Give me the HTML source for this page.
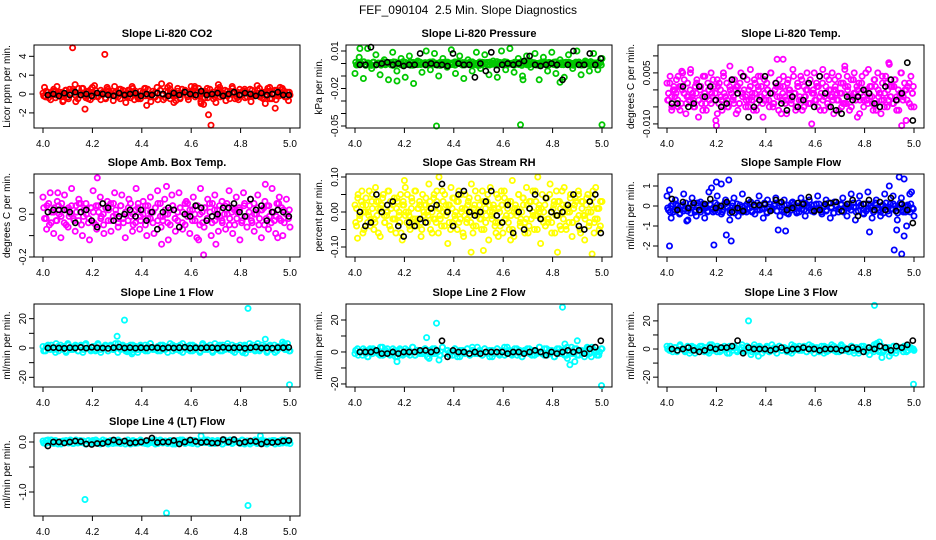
<!DOCTYPE html>
<html>
<head>
<meta charset="utf-8">
<style>
html,body{margin:0;padding:0;background:#fff;}
svg{display:block;font-family:"Liberation Sans",Arial,sans-serif;}
</style>
</head>
<body>
<svg id="chart" width="936" height="540" viewBox="0 0 936 540" xmlns="http://www.w3.org/2000/svg">
<rect x="0" y="0" width="936" height="540" fill="#fff"/>
<text x="468" y="14" text-anchor="middle" font-size="12" xml:space="preserve">FEF_090104  2.5 Min. Slope Diagnostics</text>
</svg>
<script>
// ---------- x axis ----------
const xTicks=[4.0,4.2,4.4,4.6,4.8,5.0];
const xTickLabels=["4.0","4.2","4.4","4.6","4.8","5.0"];

// ---------- CO2 ----------
const co2Band=[.1,-.3,.2,-.1,.3,-.4,0,.2,-.2,.4,-.3,.1,.5,-.1,-.5,.2,.6,-.2,.3,-.6,.1,.4,-.3,0,.2,-.4,.5,-.1,.3,-.2,.1,-.5,.4,0,-.3,.2,.6,-.1,-.4,.3,.1,-.2,.5,-.3,0,.2,-.6,.4,-.1,.3,.7,-.5,.2,-.2,.6,-.4,.1,.3,-.1,0,.4,-.3,.2,-.2,.1,.3,-.4,0,.2,-.1,.5,-.3,.1,.4,-.2,0,.6,-.5,.2,-.1,.3,-.4,.1,.5,-.2,0,.4,-.3,.2,-.1,.3,-.5,.1,.4,-.2,0,.5,-.3,.2,-.1];
const co2Band2=[-.2,.3,-.4,.1,.5,-.1,.2,-.3,0,.4,-.5,.1,.3,-.2,.6,-.1,0,-.4,.2,.5,-.3,.1,-.2,.4,0,-.5,.3,.1,-.1,.2,-.3,.5,0,-.2,.4,-.4,.1,.3,-.1,-.5,.2,.6,-.2,0,.3,-.3,.1,.4,-.1,-.4,.2,.5,-.2,0,.3,-.5,.1,.4,-.3,.2,-.1,.6,-.2,0,.3,-.4,.1,.5,-.1,-.3,.2,.4,-.2,0,.3,-.5,.1,.2,-.4,.5,-.1,.3,-.3,0,.4,-.2,.1,.6,-.4,.2,-.1,.3,-.5,0,.4,-.2,.1,.3,-.3,.2];
const co2Scat=[.7,-.6,.8,-.7,.5,-.8,.6,-.5,.9,-.6,.7,-.7,.5,-.9,.8,-.5,.6,-.8,.7,-.6,.9,-.7,.5,-.6,.8,-.8,.6,-.5,.7,-.7,.8,-.6,.5,-.8,.9,-.5,.7,-.6,.6,-.7];
const co2OutX=[4.12,4.25,4.13,4.17,4.2,4.29,4.42,4.48,4.53,4.6,4.64,4.65,4.67,4.68,4.7,4.71,4.63,4.9,4.91,4.94,4.96,4.08,4.35,4.37,4.05];
const co2OutY=[4.9,4.2,1.0,-1.6,.7,.8,-1.2,1.1,-.9,.8,-1.0,-1.1,-2.2,-3.3,-.9,1.0,.6,-1.0,.6,-1.5,.7,-.8,.4,-.6,.3];
const co2Black=[-.1,0,-.2,.1,-.1,.2,-.1,0,-.2,.1,0,-.1,-.2,.1,-.1,0,.1,-.2,0,-.1,.1,0,-.2,.1,-.1,.2,0,-.1,.3,-.1,0,.1,-.2,0,.2,-.1,.1,0,-.2,.1,-.1,0,.2,-.1,-.1];
const co2Ticks=[-2,0,2,4];
const co2TickLabels=["-2","0","2","4"];

// ---------- Pressure ----------
const presBand=[.001,-.001,0,.0012,-.0015,.0005,-.0008,.001,-.0012,.0003,-.0005,.0014,-.001,0,.0008,-.0015,.0011,-.0003,.0006,-.0012,.0009,-.0007,.0013,-.0014,.0002,-.0009,.001,-.0004,.0007,-.0011,.0012,-.0002,.0004,-.0013,.0009,-.0006,.0011,-.0015,.0003,-.0008,.0013,-.0001,.0006,-.0012,.0008,-.0005,.001,-.001,.0002,-.0014,.0012,-.0003,.0007,-.0009,.0011,-.0006,.0004,-.0013,.0009,-.0002,.0014,-.0011,.0001,-.0007,.001,-.0004,.0008,-.0015,.0005,-.001,.0012,-.0003,.0006,-.0012,.0003,-.0008,.0013,-.0005,.0009,-.0001,.0011,-.0014,.0004,-.0009,.0007,-.0006,.001,-.0011,.0002,-.0004,.0012,-.0013,.0006,-.0002,.0009,-.001,.0005,-.0007,.0011,-.0012];
const presBand2=[-.0012,.0008,-.0003,.0014,-.0009,.0002,-.0015,.0011,-.0006,.0004,-.0013,.001,-.0001,.0007,-.0011,.0013,-.0004,.0005,-.001,.0015,-.0007,.0001,-.0014,.0009,-.0002,.0012,-.0008,.0003,-.0012,.0006,-.0005,.0014,-.001,.0002,-.0015,.0008,-.0003,.0011,-.0009,.0005,-.0013,.0012,-.0001,.0007,-.0011,.0004,-.0006,.0013,-.0008,.0001,-.0014,.001,-.0004,.0009,-.0012,.0003,-.0007,.0015,-.0002,.0006,-.001,.0011,-.0005,.0002,-.0013,.0008,-.0009,.0014,-.0003,.0005,-.0011,.0012,-.0006,.0001,-.0015,.0009,-.0002,.0007,-.0012,.0004,-.0008,.0013,-.0001,.0006,-.001,.001,-.0004,.0003,-.0014,.0011,-.0007,.0002,-.0011,.0008,-.0005,.0015,-.0009,.0004,-.0013,.0007];
const presScat=[-.008,.005,-.012,.012,-.004,.007,-.009,.003,-.013,.009,-.006,.004,-.011,.006,-.016,.002,-.007,.01,-.005,.008,-.01,.004,-.003,.011,-.008,.006,-.012,.003,-.006,.009,-.004,.007,-.009,.002,-.011,.01,-.005,.012,-.007,.004,-.01,.006,-.003,.008,-.013,.005,-.006,.009,-.008,.003,-.011,.007,-.004,.01,-.009,.002,-.006,.008,-.005,.004];
const presOutX=[4.33,4.67,5.0,4.17,4.83,4.02,4.68];
const presOutY=[-.05,-.049,-.049,-.014,-.015,.012,-.013];
const presBlack=[-.001,-.001,.013,-.001,0,.001,-.001,0,-.002,-.001,-.001,.008,-.001,0,-.001,-.001,-.002,.008,0,-.001,-.001,-.011,0,-.006,.009,-.005,-.001,0,-.001,0,.002,.006,-.001,-.002,-.001,0,-.001,-.013,-.001,.01,-.001,-.001,.008,-.001,.004];
const presTicks=[.01,0,-.01,-.02,-.03,-.04,-.05];
const presTickLabels=["0.01","","","-0.02","","","-0.05"];

// ---------- Li-820 Temp ----------
const tempScat=[.002,-.003,.004,-.006,0,-.002,.003,-.005,.001,-.004,.005,-.001,-.007,.002,-.003,.006,-.002,-.005,.001,.003,-.008,0,-.004,.004,-.001,-.006,.002,-.003,.005,-.002,.001,-.009,.003,-.004,0,-.006,.004,-.002,.002,-.005,.007,-.001,-.003,.003,-.007,.001,-.004,.005,-.002,0,-.005,.003,-.003,.006,-.001,-.006,.002,-.004,.004,-.002,.001,-.008,.003,-.003,0,-.005,.005,-.001,-.004,.002,.009,-.006,.001,-.003,.004,-.002,-.007,.003,0,-.004,.006,-.001,-.005,.002,-.003,.004,-.006,.001,-.002,.005,-.004,.003,-.010,0,-.003,.002,-.005,.004,-.001,.006,-.006,.001,-.004,.003,-.002,.005,-.007,0,-.003,.004,-.001,-.005,.002,.007,-.004,.001,-.006,.003,-.002,.005,-.003,-.008,.002,-.001,.004,-.005,0,-.003,.006,-.002,.001,-.006,.003,-.004,.005,-.001,-.007,.002,-.003,.004,-.005,.008,-.002,.001,-.004,.003,-.006,0,-.002,.005,-.003,.002,-.009,.001,-.004,.004,-.001,-.005];
const tempScat2=[-.003,.002,-.005,.001,-.001,.004,-.006,0,.003,-.004,-.002,.005,-.001,-.005,.002,-.003,.001,-.006,.004,-.002,0,-.004,.003,-.001,-.007,.002,-.003,.005,-.002,-.005,.001,.003,-.004,0,-.006,.002,-.001,.004,-.003,-.005,.001,-.002,.003,-.006,0,.004,-.004,-.001,.002,-.003,.005,-.005,0,-.002,.003,-.007,.001,-.004,.002,-.001,-.003,.004,-.006,.001,-.002,.003,-.005,0,.002,-.004,-.001,.005,-.003,.001,-.006,.002,-.002,.004,-.005,0,-.003,.003,-.001,-.006,.002,-.004,.001,.004,-.002,-.005,.003,-.001,0,-.007,.002,-.003,.005,-.004,.001,-.002,.003,-.006,0,-.001,.004,-.005,.002,-.003,.001,-.004,.003,-.002,-.006,.005,-.001,0,-.003,.002,-.005,.001];
const tempBand=[-.001,-.002,0,-.003,.001,-.001,-.002,0,-.003,-.001,.001,-.002,-.004,0,-.001,-.003,.001,-.002,-.001,-.003,0,-.002,.001,-.004,-.001,-.002,0,-.003,-.001,.001,-.002,-.003,0,-.001,-.004,.001,-.002,-.001,-.003,0,-.002,-.001,.001,-.003,-.002,0,-.004,-.001,.001,-.002,-.003,-.001,0,-.002,.001,-.003,-.001,-.004,0,-.002,-.001,.001,-.003,-.002,0,-.001,-.004,.001,-.002,-.003,-.001,0,-.002,.001,-.003,-.001,-.002,0,-.004,-.001];
const tempOutX=[4.2,4.47,4.9,4.95,4.06,4.72];
const tempOutY=[-.0105,.009,.0075,-.0105,.0055,.006];
const tempBlack=[-.004,-.004,.001,-.005,-.004,.001,-.002,.001,-.003,-.005,-.004,.003,-.001,.004,-.008,-.005,-.003,.004,-.001,.002,-.004,-.006,-.002,-.005,-.003,.002,-.005,.004,-.001,-.005,-.006,-.007,-.002,-.003,-.002,0,-.001,-.004,-.005,.001,.003,-.003,-.001,.008,-.009];
const tempTicks=[.01,.005,0,-.005,-.01];
const tempTickLabels=["","0.005","","","-0.010"];

// ---------- Amb Box Temp ----------
const ambBand=[.03,-.02,.05,-.04,.01,-.03,.04,-.01,.02,-.05,.03,0,-.02,.04,-.03,.05,-.01,.02,-.04,.03,.01,-.05,.04,-.02,0,.03,-.03,.05,-.01,.02,-.04,.04,-.02,.01,-.03,.05,0,-.04,.03,-.01,.02,-.05,.04,-.02,.01,.03,-.03,.05,-.01,0,-.04,.02,.04,-.02,-.03,.03,.01,-.05,.05,-.01,.02,-.03,.04,0,-.04,.03,-.02,.01,.05,-.03,.02,-.01,-.04,.04,0,-.02,.03,-.05,.01,.02,-.03,.05,-.01,.04,-.04,0,.03,-.02,.02,-.05,.04,-.01,.01,-.03,.05,-.02,.03,-.04,0,.02];
const ambBand2=[-.02,.04,-.05,.01,.03,-.03,0,.05,-.04,.02,-.01,.04,-.03,.01,.05,-.05,.02,0,-.02,.03,-.04,.04,.01,-.01,-.05,.03,.02,-.03,.05,0,-.02,.04,-.04,.01,.03,-.01,-.05,.02,.05,-.03,0,.04,-.02,.01,-.04,.03,.05,-.01,-.03,.02,0,-.05,.04,-.02,.01,.03,-.04,.05,-.01,.02,-.03,0,.04,-.05,.01,.03,-.02,.05,-.04,.02,-.01,.04,-.03,0,.05,-.05,.01,.02,-.02,.03,-.04,.04,-.01,.01,-.03,.05,0,-.05,.02,.03,-.02,.04,-.04,.01,-.01,.05,-.03,.02,0,-.02];
const ambScat=[.08,-.07,.1,-.09,.06,-.11,.09,-.06,.12,-.08,.07,-.1,.05,-.12,.11,-.07,.08,-.09,.06,-.08,.1,-.06,.09,-.11,.07,-.08,.12,-.07,.06,-.1,.08,-.09,.11,-.06,.07,-.12,.09,-.08,.1,-.07,.06,-.09,.08,-.11,.12,-.06,.07,-.1,.09,-.08,.06,-.07,.11,-.09,.08,-.12,.1,-.06,.07,-.08,.09,-.11,.06,-.07,.12,-.09,.08,-.1,.07,-.06];
const ambOutX=[4.22,4.48,4.65,4.63,4.06,4.5,4.95,4.9,4.7];
const ambOutY=[.17,-.14,-.19,-.12,.1,.13,-.11,.14,-.14];
const ambBlack=[.01,.02,.02,.02,.01,-.04,.01,.02,-.03,-.06,.05,.03,-.03,-.01,0,.02,-.01,.02,-.03,.01,-.07,.01,.03,.02,-.06,0,-.01,.04,.03,-.03,-.01,0,.03,.03,.05,.01,-.01,.07,.02,.04,-.03,.01,.02,.01,-.01];
const ambTicks=[.1,0,-.1,-.2];
const ambTickLabels=["","0.0","","-0.2"];

// ---------- Gas Stream RH ----------
const rhScat=[.02,-.04,.05,-.01,.03,-.06,0,.04,-.03,.06,-.02,.01,-.05,.07,-.01,.03,-.07,.02,.05,-.03,0,.06,-.04,.01,-.02,.04,-.06,.03,-.01,.05,-.08,.02,.07,-.03,0,-.05,.04,-.02,.06,-.04,.01,.03,-.07,.05,-.01,.02,-.03,.08,-.05,0,.04,-.02,.06,-.06,.01,-.04,.03,.05,-.01,-.09,.02,.07,-.03,.04,0,-.05,.06,-.02,.01,-.07,.05,-.03,.03,-.01,.08,-.06,.02,-.04,.04,0,-.02,.06,-.05,.01,.03,-.08,.07,-.01,.02,-.04,.05,-.03,0,.06,-.06,.04,-.02,.01,-.05,.03,.09,-.07,.02,-.01,.05,-.04,0,.04,-.03,.07,-.06,.01,-.02,.06,-.05,.03,-.01,.02,-.09,.05,0,-.04,.04,-.02,.08,-.03,.01,-.06,.06,-.01,.03,-.05,.02,.07,-.04,0,-.03,.05,-.07,.01,.04,-.02,.06,-.05,.03,-.01,-.08,.02,.05,-.03,0,.04,-.06,.07,-.02,.01,-.04,.03];
const rhScat2=[-.03,.04,-.01,.06,-.05,.02,0,-.04,.05,-.02,.03,-.06,.01,.04,-.03,-.01,.06,-.05,.02,-.02,.04,0,-.06,.03,-.01,.05,-.04,.01,-.03,.06,-.02,.02,-.05,0,.04,-.01,.03,-.06,.05,-.03,.01,-.02,.06,-.04,0,.02,-.05,.04,-.01,.03,-.03,.05,-.06,.01,-.02,.04,0,-.04,.06,-.01,.02,-.05,.03,-.03,.05,0,-.02,.01,-.06,.04,-.04,.02,.06,-.01,-.03,.03,-.05,.01,0,.05,-.02,.04,-.06,.02,-.04,.03,-.01,.06,-.05,0,.01,-.03,.04,-.02,.05,-.06,.02,-.01,.03,-.04,.06,0,-.05,.01,.04,-.03,.02,-.02,.05,-.06,.03,-.01,.04,-.04,0,.06,-.02,.01,-.05,.03];
const rhBand=[.01,-.02,.02,0,-.01,.03,-.03,.01,.02,-.01,0,.03,-.02,.01,-.03,.02,0,-.01,.03,-.02,.01,-.03,.02,0,.01,-.02,.03,-.01,0,.02,-.03,.01,-.02,.03,0,-.01,.02,-.03,.01,0,-.02,.03,-.01,.02,0,-.03,.01,.02,-.02,.03,-.01,0,.01,-.03,.02,-.02,.03,0,-.01,.01,-.02,.02,-.03,0,.03,-.01,.01,-.02,.02,0,-.03,.03,-.01,.01,-.02,0,.02,-.03,.01,.03];
const rhOutX=[4.34,4.74,4.52,4.82,4.96,4.01,4.2,4.58,4.47,4.63];
const rhOutY=[.1,.1,-.11,-.115,-.12,-.075,.09,-.07,-.115,-.08];
const rhBlack=[0,-.04,-.03,.05,0,.02,.03,-.04,-.07,-.03,-.04,-.02,-.03,.01,.02,.08,0,-.04,.05,.06,0,-.01,0,.03,.06,-.01,-.03,.02,-.06,0,-.05,.01,.05,-.02,.04,0,-.01,0,.02,.05,-.04,-.05,.03,.05,-.06];
const rhTicks=[.1,.05,0,-.05,-.1];
const rhTickLabels=["0.10","","0.00","","-0.10"];

// ---------- Sample Flow ----------
const flowBand=[-.1,-.3,.1,-.2,0,-.35,.05,-.15,-.25,.1,-.05,-.3,.15,-.2,-.1,0,-.3,.1,-.15,-.25,.05,-.1,-.3,.15,-.05,-.2,0,-.35,.1,-.15,-.05,-.25,.1,-.1,-.3,.05,-.2,0,-.15,.15,-.3,-.05,-.1,.1,-.25,0,-.2,.05,-.35,-.1,.15,-.15,-.05,-.3,.1,-.2,0,-.1,-.25,.05,-.15,.1,-.3,-.05,-.2,.15,-.1,-.35,0,-.15,.05,-.25,-.1,.1,-.2,-.05,-.3,.15,0,-.15,-.25,.1,-.1,-.3,.05,-.2,0,-.35,.15,-.05,-.15,.1,-.25,-.1,.05,-.3,0,-.2,.1,-.15];
const flowBand2=[-.2,0,-.3,.1,-.15,-.05,-.25,.15,-.1,-.35,.05,-.2,0,-.3,.1,-.1,-.25,.05,-.15,.15,-.3,0,-.2,.1,-.05,-.35,.15,-.1,-.2,.05,-.3,0,-.15,.1,-.25,-.05,.15,-.2,-.1,.05,-.35,.1,-.15,0,-.25,.15,-.05,-.3,.05,-.1,-.2,.1,-.35,0,-.15,.15,-.25,-.05,.05,-.3,.1,-.1,-.2,0,-.25,.15,-.05,-.35,.05,-.15,.1,-.3,0,-.1,-.2,.15,-.05,-.25,.05,-.35,.1,-.15,0,-.2,.15,-.1,-.3,.05,-.05,-.25,.1,-.15,0,-.35,.15,-.2,-.05,.05,-.3,-.1];
const flowScat=[.5,-.6,.3,-.4,.6,-.7,.4,-.5,.2,-.6,.7,-.3,.5,-.4,.3,-.7,.4,-.5,.6,-.3,.2,-.4,.5,-.6,.3,-.2,.4,-.5,.3,-.4,.2,-.3,.4,-.5,.3,-.2,.5,-.4,.3,-.6,.2,-.3,.4,-.5,.6,-.7,.5,-.4,.7,-.6,.3,-.5,.6,-.4,.5,-.7,.4,-.3,.6,-.5];
const flowOutX=[4.01,4.01,4.2,4.19,4.22,4.25,4.26,4.24,4.45,4.48,4.82,4.9,4.92,4.93,4.94,4.96,4.95,4.99,4.08,4.18,4.97,4.96];
const flowOutY=[.8,-2.0,1.2,-1.95,1.1,1.3,-1.75,-1.45,-1.2,-1.25,-1.3,1.0,-2.2,-1.2,1.45,1.35,-2.4,.7,-.75,.9,-1.0,-1.5];
const flowBlack=[.35,-.2,.2,-.1,.15,-.2,.1,.35,-.1,0,.2,-.3,-.1,-.25,.3,.05,.05,.1,-.25,.3,.2,-.2,-.1,.15,.1,.45,-.25,-.2,.1,.15,.2,-.25,.1,.3,-.5,.1,.3,-.2,.2,-.2,.4,-.25,.1,-.2,-.85];
const flowTicks=[1,0,-1,-2];
const flowTickLabels=["1","0","-1","-2"];

// ---------- Line 1 ----------
const l1Band=[1,-2,2,-1,0,-3,1,2,-1,-2,3,0,-1,2,-2,1,-3,2,0,-1,1,-2,3,-1,0,2,-2,1,-1,3,-3,0,2,-1,1,-2,2,0,-3,1,-1,2,-2,3,0,-1,1,-2,2,-1,0,3,-2,1,-1,2,-3,0,1,-2,2,-1,0,-2,3,1,-1,2,-3,0,1,-2,2,-1,3,0,-2,1,-1,2,-3,1,0,-1,2,-2,3,-1,0,1,-2,2,-1,-3,1,0,2,-1,3,-2];
const l1Band2=[-2,1,0,2,-1,3,-2,0,1,-3,2,-1,0,1,-2,2,-1,3,0,-2,1,-1,2,-3,0,1,-2,2,-1,0,3,-1,1,-2,0,2,-3,1,-1,2,0,-2,1,3,-1,0,-2,2,-1,1,-3,0,2,-1,1,-2,3,0,-1,2,-2,1,0,-3,2,-1,1,0,-2,3,-1,2,-2,0,1,-1,2,-3,1,0,-2,2,-1,3,0,-1,1,-2,2,0,-3,1,-1,2,-2,0,1,3,-1,-2];
const l1OutX=[4.3,4.33,4.34,4.36,4.83,4.87,4.9,4.97,4.998,4.82];
const l1OutY=[8,19,-2.5,-4,27,3,6,4,-25,-3.5];
const l1Black=[0,.3,0,-.2,.2,0,.4,-.1,.5,.1,0,-.3,.2,.6,0,.3,-.1,.2,0,.4,.1,-.2,.3,0,.2,.5,-.1,.1,0,.3,.2,-.1,.4,0,.1,.3,-.2,.2,.6,0,.1,-.1,.3,.2,.4];
const lineTicks=[20,10,0,-10,-20];
const lineTickLabels=["20","","0","","-20"];

// ---------- Line 2 ----------
const l2Band=[-1,2,0,-2,1,-3,2,-1,1,0,-2,3,-1,2,-2,0,1,-3,2,-1,0,1,-2,3,-2,1,0,-1,2,-3,1,-1,2,0,-2,3,-1,1,-2,0,2,-1,-3,1,0,2,-2,1,-1,3,0,-2,2,-1,1,-3,0,2,-1,1,-2,3,0,-1,2,-2,1,-3,0,2,-1,1,-2,0,3,-1,2,-2,1,0,-3,2,-1,1,-2,3,0,-1,2,-2,1,0,-3,2,-1,3,1,-2,0,2];
const l2Band2=[1,-2,0,2,-1,-3,1,2,0,-1,3,-2,1,0,-1,2,-3,0,1,-2,2,-1,0,3,-2,1,-1,0,2,-3,1,2,-1,0,-2,3,-1,1,0,-2,2,-3,1,0,-1,2,-2,3,0,-1,1,-2,2,0,-3,1,-1,2,-2,0,3,-1,1,-2,0,2,-1,-3,1,0,2,-2,1,-1,3,0,-2,2,-1,1,-3,0,2,-1,1,-2,0,3,-1,2,-2,1,0,-1,2,-3,1,0,-2,2];
const l2OutX=[4.17,4.29,4.3,4.33,4.34,4.84,4.85,4.87,4.9,4.89,4.998,4.94,4.86];
const l2OutY=[-6,9,-4,18,-5,28,5,-8,7,-6,-21,3,-4];
const l2Black=[0,0,0,1,-1,-1,0,-1,0,0,0,1,1,0,1,7,-3,1,0,0,-1,0,-1,0,0,0,0,-1,0,0,-1,0,1,0,-2,0,-1,0,1,0,1,-1,2,3,7];

// ---------- Line 3 ----------
const l3Band=[2,-1,0,1,-2,2,0,-1,1,-3,2,1,-1,0,2,-2,1,-1,3,0,-2,1,-1,2,0,-3,1,2,-1,0,1,-2,2,-1,0,3,-2,1,0,-1,2,-2,0,1,-3,2,-1,1,0,-2,3,-1,0,2,-1,1,-2,0,2,-3,1,0,-1,2,-2,1,3,-1,0,-2,2,1,-1,0,2,-3,1,-1,2,0,-2,1,-1,3,0,-2,2,-1,1,0,-3,2,-1,1,0,2,-2,1,0,-1];
const l3Band2=[0,2,-2,1,-1,3,0,-2,2,-1,1,-3,0,2,-1,1,-2,3,-1,0,2,-2,1,0,-3,2,-1,1,-2,0,3,-1,2,0,-2,1,-1,2,-3,0,1,-2,3,-1,0,2,-1,1,-2,0,-3,2,1,-1,0,2,-2,3,-1,1,0,-2,2,-3,1,-1,0,2,-2,1,3,-1,0,-2,2,-1,1,-3,0,2,-1,1,0,-2,3,-1,2,-2,0,1,-1,2,-3,1,0,-2,2,-1,1,0];
const l3OutX=[4.33,4.17,4.34,4.37,4.84,4.86,4.87,4.9,4.998,4.82,4.85];
const l3OutY=[20,-3,-4,-5,31,5,-6,-5,-25,-4,4];
const l3Black=[0,-1,0,1,-1,-2,-1,1,0,1,1,2,6,-3,1,0,0,0,-1,0,1,-1,0,0,1,0,0,-1,0,0,0,-1,0,1,0,-2,1,0,2,1,-1,2,1,3,6];

// ---------- Line 4 ----------
const l4Band=[.02,-.03,.04,0,-.02,.03,-.04,.01,.02,-.01,0,.04,-.03,.01,-.02,.03,0,-.04,.02,-.01,.03,-.02,.01,-.04,.04,0,-.01,.02,-.03,.03,-.02,.01,0,-.04,.04,-.01,.02,-.03,.01,.03,-.02,0,-.04,.02,-.01,.04,-.03,.01,0,.02,-.02,.03,-.04,.01,-.01,.04,0,-.03,.02,-.02,.03,.01,-.04,0,.02,-.01,.04,-.03,.01,-.02,.03,0,-.04,.02,-.01,.04,-.02,.01,0,-.03,.03,-.01,.02,-.04,0,.04,-.02,.01,-.03,.02,0,-.01,.03,-.04,.01,.02,-.02,.04,0,-.03];
const l4Band2=[-.02,.03,-.01,.04,-.03,.01,0,-.04,.02,.03,-.02,.01,-.03,.04,0,-.01,.02,-.04,.03,-.02,.01,.04,-.03,0,-.01,.02,-.04,.03,.01,-.02,.04,-.03,0,.02,-.01,-.04,.03,.01,-.02,.04,0,-.03,.02,-.01,.03,-.04,.01,.04,-.02,0,-.03,.02,.01,-.04,.03,-.01,.04,-.02,0,.01,-.03,.03,-.04,.02,-.01,.04,0,-.02,.03,-.03,.01,.02,-.04,.04,-.01,0,-.03,.03,.01,-.02,.04,-.04,.02,0,-.01,.03,-.03,.01,.04,-.02,-.04,.02,0,.03,-.01,-.03,.04,.01,-.02,.03];
const l4OutX=[4.17,4.5,4.83,4.64,4.88];
const l4OutY=[-1.15,-1.42,-1.27,.12,.12];
const l4Black=[-.08,0,0,-.02,0,.02,.01,-.04,-.05,-.03,-.03,0,.04,0,.02,-.02,-.01,0,.03,.08,-.01,0,0,.03,-.04,0,.04,.01,-.01,0,-.02,-.02,.05,0,.05,-.02,0,.02,.01,-.04,0,-.01,0,.02,.03];
const l4Ticks=[0,-.5,-1];
const l4TickLabels=["0.0","","-1.0"];

// ---------- layout ----------
const NS="http://www.w3.org/2000/svg";
const svg=document.getElementById('chart');
const colLeft=[34,346,658], rowTop=[45,174,304,433], boxW=266, boxH=83;

const panels=[
 {name:'co2',title:'Slope Li-820 CO2',ylab:'Licor ppm per min.',c:0,r:0,ymin:-3.6,ymax:5.2,color:'#ff0000',bands:[co2Band,co2Band2,co2Scat],ox:co2OutX,oy:co2OutY,black:co2Black,ticks:co2Ticks,tl:co2TickLabels},
 {name:'pressure',title:'Slope Li-820 Pressure',ylab:'kPa per min.',c:1,r:0,ymin:-0.0516,ymax:0.0148,color:'#00c800',bands:[presScat,presBand,presBand2],ox:presOutX,oy:presOutY,black:presBlack,ticks:presTicks,tl:presTickLabels},
 {name:'li-temp',title:'Slope Li-820 Temp.',ylab:'degrees C per min.',c:2,r:0,ymin:-0.0112,ymax:0.0132,color:'#ff00ff',bands:[tempScat,tempScat2,tempBand],ox:tempOutX,oy:tempOutY,black:tempBlack,ticks:tempTicks,tl:tempTickLabels},
 {name:'amb-temp',title:'Slope Amb. Box Temp.',ylab:'degrees C per min.',c:0,r:1,ymin:-0.2,ymax:0.188,color:'#ff00ff',bands:[ambScat,ambBand,ambBand2],ox:ambOutX,oy:ambOutY,black:ambBlack,ticks:ambTicks,tl:ambTickLabels},
 {name:'gas-rh',title:'Slope Gas Stream RH',ylab:'percent per min.',c:1,r:1,ymin:-0.1286,ymax:0.1086,color:'#ffff00',bands:[rhScat,rhScat2,rhBand],ox:rhOutX,oy:rhOutY,black:rhBlack,ticks:rhTicks,tl:rhTickLabels},
 {name:'sample-flow',title:'Slope Sample Flow',ylab:'ml/min per min.',c:2,r:1,ymin:-2.55,ymax:1.6,color:'#0000ff',bands:[flowScat,flowBand,flowBand2],ox:flowOutX,oy:flowOutY,black:flowBlack,ticks:flowTicks,tl:flowTickLabels},
 {name:'line1',title:'Slope Line 1 Flow',ylab:'ml/min per min.',c:0,r:2,ymin:-26.6,ymax:30,color:'#00ffff',bands:[l1Band,l1Band2],ox:l1OutX,oy:l1OutY,black:l1Black,ticks:lineTicks,tl:lineTickLabels},
 {name:'line2',title:'Slope Line 2 Flow',ylab:'ml/min per min.',c:1,r:2,ymin:-21.9,ymax:30,color:'#00ffff',bands:[l2Band,l2Band2],ox:l2OutX,oy:l2OutY,black:l2Black,ticks:lineTicks,tl:lineTickLabels},
 {name:'line3',title:'Slope Line 3 Flow',ylab:'ml/min per min.',c:2,r:2,ymin:-27,ymax:32,color:'#00ffff',bands:[l3Band,l3Band2],ox:l3OutX,oy:l3OutY,black:l3Black,ticks:lineTicks,tl:lineTickLabels},
 {name:'line4',title:'Slope Line 4 (LT) Flow',ylab:'ml/min per min.',c:0,r:3,ymin:-1.48,ymax:0.18,color:'#00ffff',bands:[l4Band,l4Band2],ox:l4OutX,oy:l4OutY,black:l4Black,ticks:l4Ticks,tl:l4TickLabels}
];

function mk(tag,attrs,parent){const e=document.createElementNS(NS,tag);for(const k in attrs)e.setAttribute(k,attrs[k]);parent.appendChild(e);return e;}

panels.forEach(p=>{
  const L=colLeft[p.c], T=rowTop[p.r], B=T+boxH;
  const xs=v=>L+9+(v-4.0)*247;
  const ys=v=>B-(v-p.ymin)/(p.ymax-p.ymin)*boxH;
  const g=mk('g',{},svg);
  
  
  const t=mk('text',{x:L+boxW/2,y:T-8,'text-anchor':'middle','font-size':'11','font-weight':'bold'},g);
  t.textContent=p.title;
  
  
  const yt=mk('text',{x:0,y:0,'text-anchor':'middle','font-size':'10',transform:`translate(${L-24},${T+boxH/2}) rotate(-90)`},g);
  yt.textContent=p.ylab;
  
  
  const xa=mk('g',{},g);
  
  
  xTicks.forEach((v,i)=>{
    const x=xs(v);
    mk('line',{x1:x,x2:x,y1:B,y2:B+5,stroke:'#000','stroke-width':1},xa);
    const tx=mk('text',{x:x,y:B+19,'text-anchor':'middle','font-size':'10'},xa);
    tx.textContent=xTickLabels[i];
    
    
  });
  const ya=mk('g',{},g);
  
  
  p.ticks.forEach((v,i)=>{
    const y=ys(v);
    mk('line',{x1:L-5,x2:L,y1:y,y2:y,stroke:'#000','stroke-width':1},ya);
    if(p.tl[i]){
      const ty=mk('text',{x:0,y:0,'text-anchor':'middle','font-size':'10',transform:`translate(${L-8},${y}) rotate(-90)`},ya);
      ty.textContent=p.tl[i];
      
      
    }
  });
  const pts=mk('g',{fill:'none',stroke:p.color,'stroke-width':1.8},g);
  
  
  const dot=(x,y,parent)=>{const c=mk('circle',{cx:x.toFixed(1),cy:y.toFixed(1),r:2.6},parent);
    
    };
  const spread=(arr,parent,x0,x1)=>{const n=arr.length;arr.forEach((v,i)=>dot(xs(x0+(x1-x0)*i/Math.max(1,n-1)),ys(v),parent));};
  p.bands.forEach((arr,k)=>spread(arr,pts,4.0+k*0.003,5.0-k*0.003));
  p.ox.forEach((v,i)=>dot(xs(v),ys(p.oy[i]),pts));
  const bk=mk('g',{fill:'none',stroke:'#000','stroke-width':1.6},g);
  
  
  spread(p.black,bk,4.02,4.995);
  const box=mk('rect',{x:L,y:T,width:boxW,height:boxH,fill:'none',stroke:'#000','stroke-width':1},g);
  
  
});
</script>
</body>
</html>
